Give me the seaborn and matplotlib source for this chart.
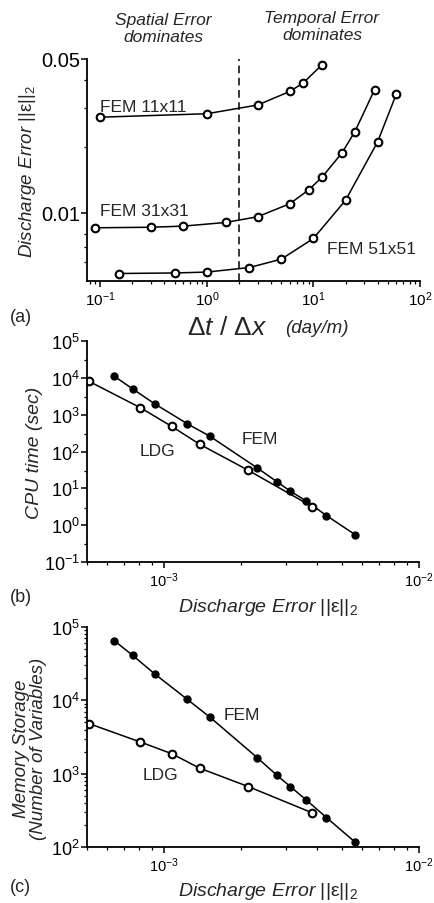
import matplotlib
matplotlib.use("Agg")
import matplotlib.pyplot as plt
import matplotlib.ticker as mticker
import pandas as pd
import seaborn as sns

# panel (a): discharge error vs dt/dx for three FEM meshes
fem11_dt = [0.1, 1.0, 3.0, 6.0, 8.0, 12.0]
fem11_err = [0.0272, 0.0282, 0.0309, 0.0356, 0.0389, 0.047]
fem31_dt = [0.09, 0.3, 0.6, 1.5, 3.0, 6.0, 9.0, 12.0, 18.5, 24.5, 37.5]
fem31_err = [0.00855, 0.0086, 0.0087, 0.00904, 0.0096, 0.0110, 0.0127, 0.0145, 0.0187, 0.0234, 0.0363]
fem51_dt = [0.15, 0.5, 1.0, 2.5, 5.0, 10.0, 20.0, 40.0, 60.0]
fem51_err = [0.0053, 0.00533, 0.00538, 0.00564, 0.00616, 0.00765, 0.0114, 0.0210, 0.0347]
dt_split = 2.0

# panels (b) and (c): cost vs discharge error
fem_err = [6.4e-4, 7.55e-4, 9.2e-4, 1.236e-3, 1.52e-3, 2.32e-3, 2.78e-3, 3.13e-3, 3.62e-3, 4.34e-3, 5.61e-3]
fem_cpu = [11000, 5000, 1980, 566, 256, 36, 15, 8.4, 4.5, 1.82, 0.556]
fem_mem = [65000, 41000, 23000, 10300, 5850, 1660, 945, 668, 436, 252, 117]
ldg_err = [5.1e-4, 8.1e-4, 1.075e-3, 1.38e-3, 2.14e-3, 3.81e-3]
ldg_cpu = [7980, 1540, 478, 158, 31, 3.2]
ldg_mem = [4800, 2700, 1870, 1190, 668, 293]

sns.set_theme(style="ticks")
plt.rcParams["font.family"] = ["Liberation Sans", "DejaVu Sans"]
plt.rcParams["mathtext.fontset"] = "custom"
plt.rcParams["mathtext.rm"] = "Liberation Sans"
plt.rcParams["mathtext.it"] = "Liberation Sans:italic"
plt.rcParams["mathtext.bf"] = "Liberation Sans:bold"

W, H = 434, 904
fig = plt.figure(figsize=(W / 100, H / 100), dpi=100)


def px_axes(left, top, right, bottom):
    return fig.add_axes([left / W, 1 - bottom / H, (right - left) / W, (bottom - top) / H])


def style_axes(ax, xsize, ysize):
    sns.despine(ax=ax)
    for s in ("left", "bottom"):
        ax.spines[s].set_linewidth(1.3)
        ax.spines[s].set_color("black")
    ax.tick_params(which="major", direction="out", length=4, width=1.1, colors="black", pad=2)
    ax.tick_params(which="minor", direction="out", length=2.5, width=0.9, colors="black")
    ax.tick_params(axis="x", labelsize=xsize)
    ax.tick_params(axis="y", labelsize=ysize, pad=1)


open_mk = dict(marker="o", markersize=5.5, markerfacecolor="white",
               markeredgecolor="black", markeredgewidth=1.5)
fill_mk = dict(marker="o", markersize=5, markerfacecolor="black",
               markeredgecolor="black", markeredgewidth=1)
ERR_LABEL = r"$\mathit{Discharge\ Error}\ ||\mathrm{\varepsilon}||_2$"

# ---- (a)
ax1 = px_axes(87, 60, 420, 282)
ax1.set_xscale("log")
ax1.set_yscale("log")
for xs, ys in [(fem11_dt, fem11_err), (fem31_dt, fem31_err), (fem51_dt, fem51_err)]:
    df = pd.DataFrame({"dt": xs, "err": ys})
    sns.lineplot(data=df, x="dt", y="err", ax=ax1, color="black", lw=1.1,
                 sort=False, **open_mk)
ax1.axvline(dt_split, color="black", lw=1.1, ls=(0, (5, 3)))
ax1.set_xlim(0.075, 100)
ax1.set_ylim(0.0049, 0.05)
ax1.yaxis.set_major_locator(mticker.FixedLocator([0.01, 0.05]))
ax1.yaxis.set_major_formatter(mticker.FixedFormatter(["0.01", "0.05"]))
ax1.yaxis.set_minor_locator(mticker.FixedLocator([0.006, 0.007, 0.008, 0.02, 0.03, 0.04]))
ax1.yaxis.set_minor_formatter(mticker.NullFormatter())
ax1.xaxis.set_major_locator(mticker.LogLocator(base=10))
ax1.xaxis.set_minor_locator(mticker.LogLocator(base=10, subs=range(2, 10)))
ax1.xaxis.set_minor_formatter(mticker.NullFormatter())
style_axes(ax1, 11, 14.5)
ax1.set_xlabel("")
ax1.set_ylabel(ERR_LABEL, fontsize=13.5)
ax1.yaxis.set_label_coords(-0.148, 0.5)
ax1.text(0.1, 0.029, "FEM 11x11", fontsize=12.5, ha="left", va="baseline")
ax1.text(0.1, 0.00975, "FEM 31x31", fontsize=12.5, ha="left", va="baseline")
ax1.text(13.3, 0.00655, "FEM 51x51", fontsize=12.5, ha="left", va="baseline")
fig.text(163 / W, 1 - 29 / H, "Spatial Error\ndominates", fontsize=12.5, style="italic",
         ha="center", va="center", linespacing=1.1)
fig.text(322 / W, 1 - 27 / H, "Temporal Error\ndominates", fontsize=12.5, style="italic",
         ha="center", va="center", linespacing=1.1)
fig.text(10 / W, 1 - 318 / H, "(a)", fontsize=13, ha="left", va="center")
fig.text(268 / W, 1 - 328 / H, r"$\mathrm{\Delta}\mathit{t}\ /\ \mathrm{\Delta}\mathit{x}$",
         fontsize=19, ha="right", va="center")
fig.text(285 / W, 1 - 329 / H, "(day/m)", fontsize=13.5, style="italic", ha="left", va="center")

# ---- (b)
ax2 = px_axes(87, 342, 419, 563)
ax2.set_xscale("log")
ax2.set_yscale("log")
sns.lineplot(x=fem_err, y=fem_cpu, ax=ax2, color="black", lw=1.1, sort=False, **fill_mk)
sns.lineplot(x=ldg_err, y=ldg_cpu, ax=ax2, color="black", lw=1.1, sort=False, **open_mk)
ax2.set_xlim(5e-4, 1e-2)
ax2.set_ylim(0.1, 1e5)
ax2.yaxis.set_major_locator(mticker.LogLocator(base=10, numticks=10))
ax2.yaxis.set_minor_locator(mticker.LogLocator(base=10, subs=[3.0], numticks=10))
ax2.yaxis.set_minor_formatter(mticker.NullFormatter())
ax2.xaxis.set_minor_locator(mticker.LogLocator(base=10, subs=range(2, 10)))
ax2.xaxis.set_minor_formatter(mticker.NullFormatter())
style_axes(ax2, 10.5, 13)
ax2.set_ylabel("CPU time (sec)", fontsize=14, style="italic")
ax2.yaxis.set_label_coords(-0.133, 0.5)
ax2.set_xlabel(ERR_LABEL, fontsize=14)
ax2.xaxis.set_label_coords(0.545, -0.155)
ax2.text(2.02e-3, 221, "FEM", fontsize=12.5, ha="left", va="center")
ax2.text(8.03e-4, 106, "LDG", fontsize=12.5, ha="left", va="center")
fig.text(10 / W, 1 - 598 / H, "(b)", fontsize=13, ha="left", va="center")

# ---- (c)
ax3 = px_axes(87, 628, 419, 848)
ax3.set_xscale("log")
ax3.set_yscale("log")
sns.lineplot(x=fem_err, y=fem_mem, ax=ax3, color="black", lw=1.1, sort=False, **fill_mk)
sns.lineplot(x=ldg_err, y=ldg_mem, ax=ax3, color="black", lw=1.1, sort=False, **open_mk)
ax3.set_xlim(5e-4, 1e-2)
ax3.set_ylim(100, 1e5)
ax3.yaxis.set_minor_locator(mticker.LogLocator(base=10, subs=range(2, 10), numticks=10))
ax3.yaxis.set_minor_formatter(mticker.NullFormatter())
ax3.xaxis.set_minor_locator(mticker.LogLocator(base=10, subs=range(2, 10)))
ax3.xaxis.set_minor_formatter(mticker.NullFormatter())
style_axes(ax3, 10.5, 13)
ax3.set_ylabel("Memory Storage\n(Number of Variables)", fontsize=13.5, style="italic",
               linespacing=1.0)
ax3.yaxis.set_label_coords(-0.12, 0.45)
ax3.set_xlabel(ERR_LABEL, fontsize=14)
ax3.xaxis.set_label_coords(0.545, -0.15)
ax3.text(1.71e-3, 6370, "FEM", fontsize=12.5, ha="left", va="center")
ax3.text(8.28e-4, 975, "LDG", fontsize=12.5, ha="left", va="center")
fig.text(10 / W, 1 - 888 / H, "(c)", fontsize=13, ha="left", va="center")

fig.savefig("out.png", dpi=100, facecolor="white")
